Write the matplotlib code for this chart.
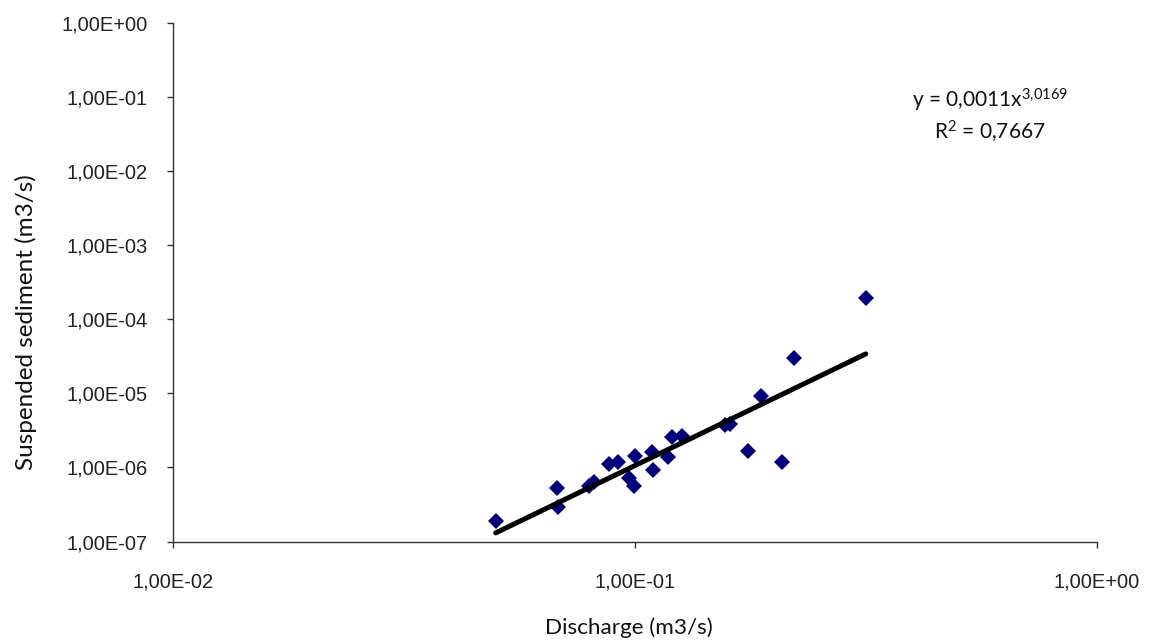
import numpy as np
import matplotlib
matplotlib.use('Agg')
import matplotlib.pyplot as plt
from matplotlib.ticker import FuncFormatter, NullLocator

plt.rcParams['mathtext.fontset'] = 'custom'
plt.rcParams['mathtext.rm'] = 'Lato'
plt.rcParams['mathtext.it'] = 'Lato'

# Discharge (m3/s) and suspended sediment (m3/s)
discharge = [0.0500, 0.0679, 0.0682, 0.0796, 0.0815, 0.0880, 0.0920, 0.0972,
             0.0997, 0.1000, 0.1087, 0.1095, 0.1180, 0.1204, 0.1262, 0.1565,
             0.1605, 0.1759, 0.1879, 0.2083, 0.2208, 0.3160]
sediment = [1.92e-7, 5.25e-7, 2.91e-7, 5.53e-7, 6.32e-7, 1.12e-6, 1.18e-6, 7.26e-7,
            5.58e-7, 1.41e-6, 1.61e-6, 9.10e-7, 1.38e-6, 2.56e-6, 2.62e-6, 3.69e-6,
            3.81e-6, 1.66e-6, 9.20e-6, 1.18e-6, 3.00e-5, 1.96e-4]

# power trendline y = a * x^b
fit_a = 0.0011
fit_b = 3.0169
fit_r2 = 0.7667

x_ticks = [1e-2, 1e-1, 1e0]
y_ticks = [1e-7, 1e-6, 1e-5, 1e-4, 1e-3, 1e-2, 1e-1, 1e0]


def excel_sci(v, pos=None):
    return f"{v:.2E}".replace('.', ',')


fig = plt.figure(figsize=(11.52, 6.42), dpi=100)
ax = fig.add_axes([0.1499, 0.1565, 0.8023, 0.808])

ax.plot(discharge, sediment, linestyle='none', marker='D', markersize=7.8,
        color='#000080', markeredgewidth=0, zorder=2)

xs = np.linspace(min(discharge), max(discharge), 50)
ax.plot(xs, fit_a * xs ** fit_b, color='black', linewidth=3.6,
        solid_capstyle='round', zorder=3)

ax.set_xscale('log')
ax.set_yscale('log')
ax.set_xlim(1e-2, 1e0)
ax.set_ylim(1e-7, 1e0)
ax.set_xticks(x_ticks)
ax.set_yticks(y_ticks)
ax.xaxis.set_minor_locator(NullLocator())
ax.yaxis.set_minor_locator(NullLocator())
ax.xaxis.set_major_formatter(FuncFormatter(excel_sci))
ax.yaxis.set_major_formatter(FuncFormatter(excel_sci))

for s in ['top', 'right']:
    ax.spines[s].set_visible(False)
for s in ['left', 'bottom']:
    ax.spines[s].set_color('#333333')
    ax.spines[s].set_linewidth(1.0)

ax.tick_params(axis='both', direction='out', length=4, width=1, color='#333333',
               labelcolor='#222222')
ax.tick_params(axis='y', pad=14)
ax.tick_params(axis='x', pad=18)
for lab in ax.get_xticklabels() + ax.get_yticklabels():
    lab.set_fontfamily('Liberation Sans')
    lab.set_fontsize(14.5)

fig.text(629 / 1152, 1 - 628 / 642, 'Discharge (m3/s)', ha='center', va='center',
         fontsize=16.2, family='Lato', color='#111111')
fig.text(26 / 1152, 1 - 322 / 642, 'Suspended sediment (m3/s)', ha='center',
         va='center', rotation=90, fontsize=17.5, family='Lato', color='#111111')

b_str = f"{fit_b}".replace('.', '{,}')
a_str = f"{fit_a}".replace('.', ',')
r_str = f"{fit_r2}".replace('.', ',')
fig.text(990 / 1152, 1 - 100 / 642, f"y = {a_str}x$^{{{b_str}}}$", ha='center',
         va='center', fontsize=15, family='Lato', color='#111111')
fig.text(990 / 1152, 1 - 132 / 642, f"R$^{{2}}$ = {r_str}", ha='center',
         va='center', fontsize=15, family='Lato', color='#111111')

fig.savefig('out.png', dpi=100)
